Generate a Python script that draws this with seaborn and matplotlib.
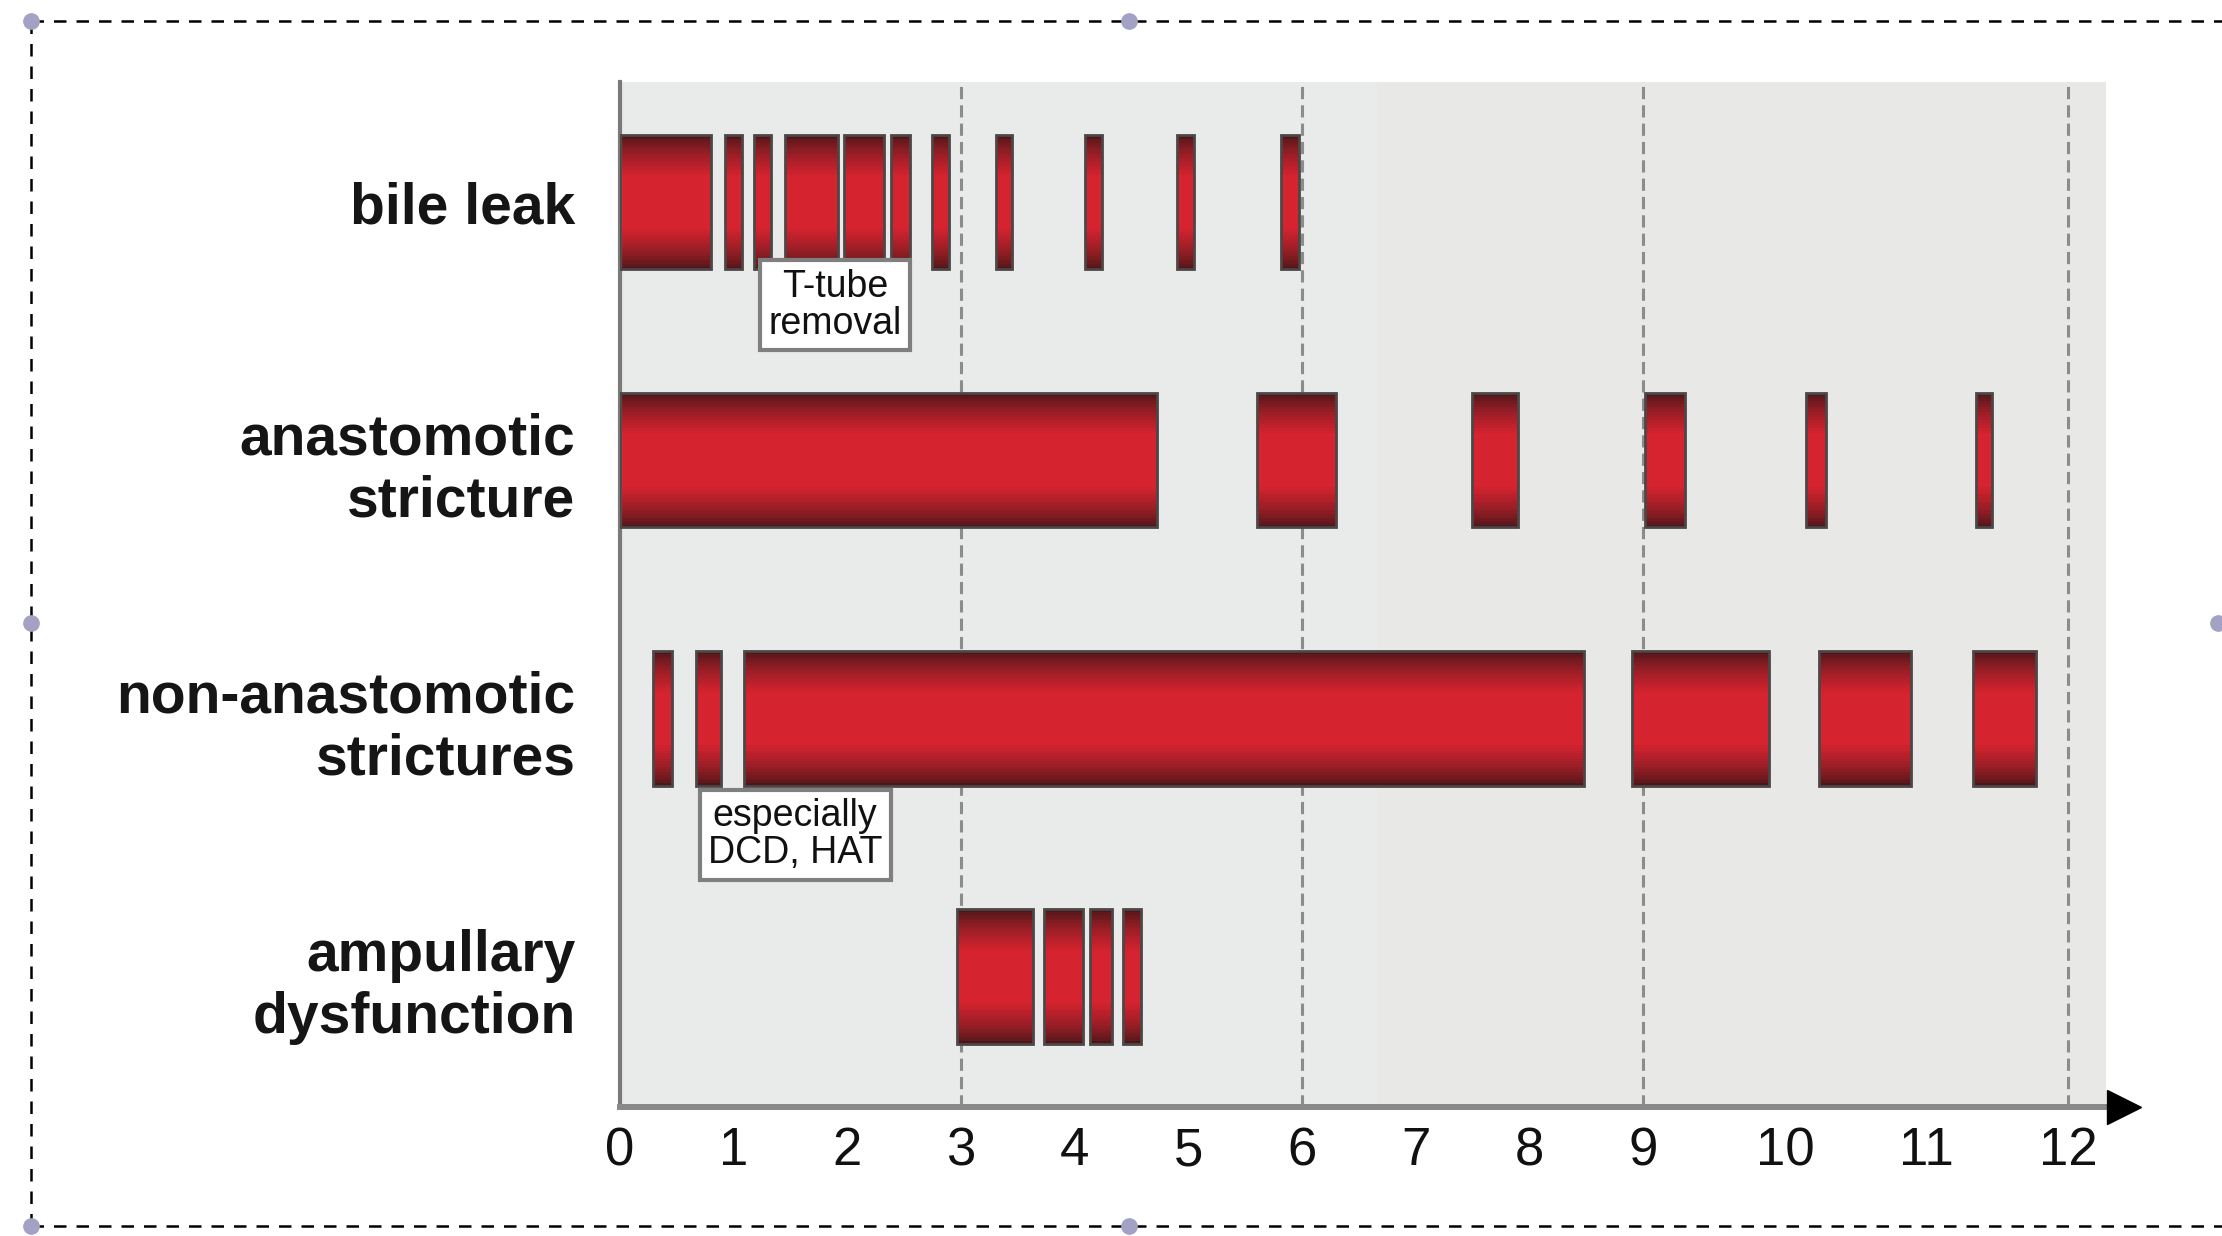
import numpy as np
import pandas as pd
import seaborn as sns
import matplotlib.pyplot as plt
import matplotlib.colors as mcolors
from matplotlib.lines import Line2D

# complication timelines (months after transplant), segments as (start, end)
rows = ['bile leak', 'anastomotic\nstricture', 'non-anastomotic\nstrictures', 'ampullary\ndysfunction']
bile_leak = [(0, 0.80), (0.92, 1.07), (1.18, 1.33), (1.45, 1.92), (1.97, 2.32), (2.38, 2.55),
             (2.74, 2.89), (3.31, 3.45), (4.09, 4.24), (4.90, 5.05), (5.81, 5.97)]
anastomotic = [(0, 4.72), (5.60, 6.30), (7.49, 7.90), (9.01, 9.29), (10.15, 10.29), (11.35, 11.46)]
non_anastomotic = [(0.29, 0.46), (0.67, 0.89), (1.09, 8.48), (8.90, 9.89), (10.24, 10.89), (11.33, 11.77)]
ampullary = [(2.96, 3.63), (3.73, 4.07), (4.13, 4.33), (4.42, 4.58)]
x_ticks = list(range(13))
guide_lines = [3, 6, 9, 12]
notes = [('T-tube\nremoval', 1.89, 0.40), ('especially\nDCD, HAT', 1.54, 2.45)]

segs = []
for i, lst in enumerate([bile_leak, anastomotic, non_anastomotic, ampullary]):
    for s, e in lst:
        segs.append({'row': i, 'start': s, 'end': e})
df = pd.DataFrame(segs)
df['width'] = df['end'] - df['start']

sns.set_theme(style='white')
plt.rcParams['font.family'] = ['Liberation Sans', 'DejaVu Sans']

# axis is stretched after month 9
k = 1.245
def fwd(x):
    x = np.asarray(x, dtype=float)
    return np.where(x <= 9, x, 9 + (x - 9) * k)
def inv(x):
    x = np.asarray(x, dtype=float)
    return np.where(x <= 9, x, 9 + (x - 9) / k)

fig = plt.figure(figsize=(22.22, 12.36), dpi=100)
ax = fig.add_axes([0.279, 0.1044, 0.669, 0.8296])
ax.set_facecolor('#e8e8e6')
ax.set_xscale('function', functions=(fwd, inv))
ax.axvspan(0, 6.66, color='#e9ebea', lw=0, zorder=0)

for g in guide_lines:
    ax.axvline(g, color='#8c8c8c', ls=(0, (4, 2)), lw=2.2, zorder=1)

bar_h = 0.52
dark = np.array(mcolors.to_rgb('#4a1619'))
bright = np.array(mcolors.to_rgb('#d5232f'))
n = 16
for j in range(n):
    t = j / (n - 1)
    col = dark + (bright - dark) * t ** 0.7
    ax.barh(df['row'], df['width'], left=df['start'], height=bar_h * (1 - 0.6 * t),
            color=col, lw=0, zorder=2)
ax.barh(df['row'], df['width'], left=df['start'], height=bar_h, fill=False,
        edgecolor='#4d4646', lw=2, zorder=3)

for txt, x, y in notes:
    ax.text(x, y, txt, ha='center', va='center', fontsize=27, linespacing=1.05,
            color='#111111', zorder=4,
            bbox=dict(boxstyle='square,pad=0.22', fc='white', ec='#7f7f7f', lw=3))

ax.set_xlim(0, 12.27)
ax.set_ylim(3.505, -0.467)
ax.set_xticks(x_ticks)
ax.set_xticklabels([str(t) for t in x_ticks], fontsize=38, color='#111111')
ax.set_yticks(range(len(rows)))
ax.set_yticklabels(rows, fontsize=41, fontweight='bold', color='#151515', ha='right')
ax.tick_params(axis='x', length=0, pad=14)
ax.tick_params(axis='y', length=0, pad=32)
ax.minorticks_off()
ax.set_xlabel('')
ax.set_ylabel('')

sns.despine(ax=ax, top=True, right=True)
ax.spines['bottom'].set_color('#898989')
ax.spines['bottom'].set_linewidth(4.3)
ax.spines['left'].set_color('#7a7a7a')
ax.spines['left'].set_linewidth(3)
ax.plot([1.012], [0], marker='>', markersize=24, color='black', transform=ax.transAxes,
        clip_on=False, zorder=5)

# dashed selection frame
fr = dict(color='black', lw=1.8, ls=(0, (5, 4)), transform=fig.transFigure)
fig.add_artist(Line2D([0.014, 1.0], [0.983, 0.983], **fr))
fig.add_artist(Line2D([0.014, 1.0], [0.008, 0.008], **fr))
fig.add_artist(Line2D([0.014, 0.014], [0.008, 0.983], **fr))
for px, py in [(0.014, 0.983), (0.508, 0.983), (0.014, 0.496), (0.998, 0.496),
               (0.014, 0.008), (0.508, 0.008)]:
    fig.add_artist(Line2D([px], [py], marker='o', markersize=11, color='#a3a1c4',
                          transform=fig.transFigure))

fig.savefig('out.png', dpi=100)
